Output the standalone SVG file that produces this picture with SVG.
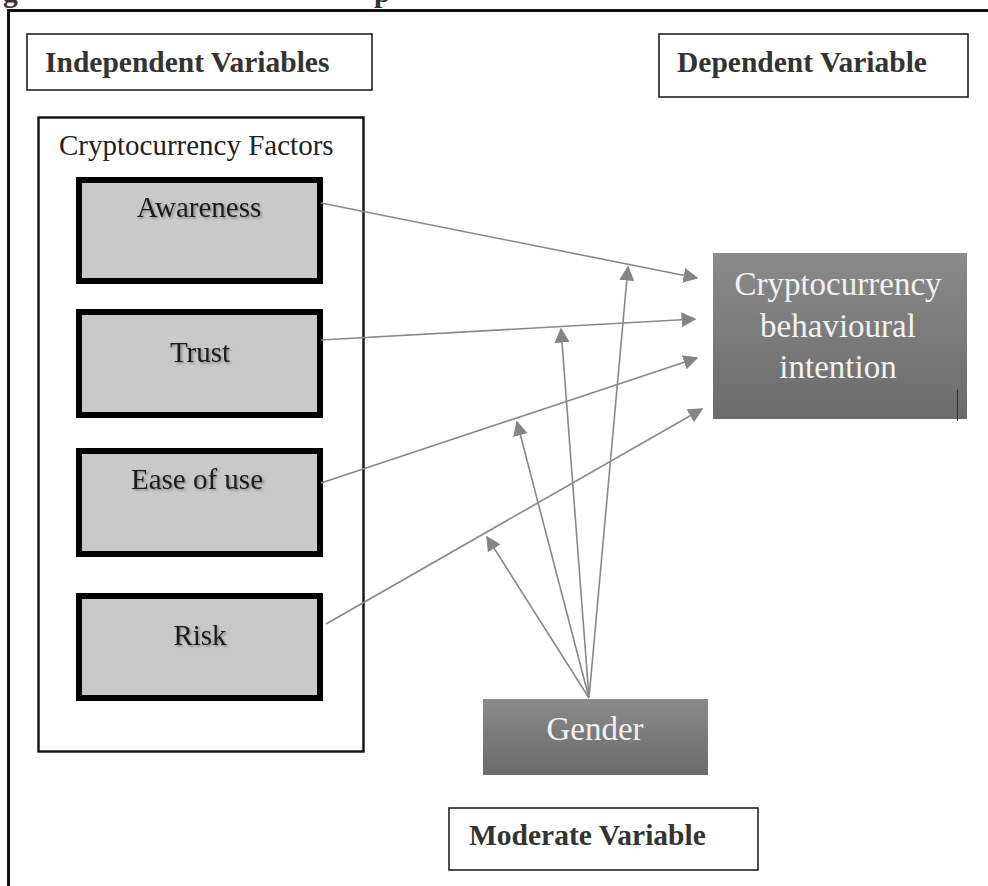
<svg xmlns="http://www.w3.org/2000/svg" width="988" height="886" viewBox="0 0 988 886">
  <style>
    text { font-family: "Liberation Serif", Tinos, "Times New Roman", "DejaVu Serif", serif; }
    .heading { font-weight: bold; font-size: 29.5px; fill: #333333; }
    .group-title { font-size: 29px; fill: #222222; }
    .factor { fill: #c9c9c9; stroke: #000000; stroke-width: 6; }
    .factor-label { font-size: 29px; fill: #1a1a1a; text-anchor: middle; }
    .dark-label { font-size: 33px; fill: #f2f2f2; text-anchor: middle; }
    .label-box { fill: #ffffff; stroke: #222222; stroke-width: 1.6; }
    .link { stroke: #888888; stroke-width: 1.6; fill: none; marker-end: url(#head); }
  </style>
  <defs>
    <marker id="head" viewBox="0 0 10 10" refX="9" refY="5" markerWidth="15" markerHeight="15" markerUnits="userSpaceOnUse" orient="auto">
      <path d="M0,0 L10,5 L0,10 Z" fill="#858585"/>
    </marker>
    <linearGradient id="darkFill" x1="0" y1="0" x2="0" y2="1">
      <stop offset="0" stop-color="#8a8a8a"/>
      <stop offset="1" stop-color="#6b6b6b"/>
    </linearGradient>
    <filter id="soft" x="-10%" y="-20%" width="130%" height="150%">
      <feDropShadow dx="1.5" dy="1.5" stdDeviation="1.2" flood-color="#555555" flood-opacity="0.6"/>
    </filter>
  </defs>

  <rect width="988" height="886" fill="#ffffff"/>

  <!-- caption descenders peeking in at the top edge -->
  <text x="3" y="2" class="heading" fill="#111111">g</text>
  <text x="374" y="2" class="heading" fill="#111111">p</text>

  <!-- outer frame, running off the right and bottom edges -->
  <path d="M8.5,1000 L8.5,10.5 L1000,10.5" fill="none" stroke="#111111" stroke-width="3"/>

  <g id="independent-heading">
    <rect class="label-box" x="27" y="34" width="345" height="56"/>
    <text class="heading" x="45" y="72">Independent Variables</text>
  </g>

  <g id="dependent-heading">
    <rect class="label-box" x="659" y="34" width="309" height="63"/>
    <text class="heading" x="677" y="72">Dependent Variable</text>
  </g>

  <g id="factors-group">
    <rect x="38.5" y="117.5" width="325" height="634" fill="none" stroke="#111111" stroke-width="2.4"/>
    <text class="group-title" x="59" y="155">Cryptocurrency Factors</text>
  </g>

  <g id="awareness">
    <rect class="factor" x="79" y="180" width="241" height="101"/>
    <text class="factor-label" x="199" y="217" filter="url(#soft)">Awareness</text>
  </g>

  <g id="trust">
    <rect class="factor" x="79" y="312" width="241" height="103"/>
    <text class="factor-label" x="200" y="362" filter="url(#soft)">Trust</text>
  </g>

  <g id="ease-of-use">
    <rect class="factor" x="79" y="451" width="241" height="103"/>
    <text class="factor-label" x="197" y="489" filter="url(#soft)">Ease of use</text>
  </g>

  <g id="risk">
    <rect class="factor" x="79" y="596" width="241" height="102"/>
    <text class="factor-label" x="200" y="645" filter="url(#soft)">Risk</text>
  </g>

  <g id="intention">
    <rect x="713" y="253" width="254" height="166" fill="url(#darkFill)"/>
    <text class="dark-label" x="838" y="295">Cryptocurrency</text>
    <text class="dark-label" x="838" y="337">behavioural</text>
    <text class="dark-label" x="838" y="378">intention</text>
    <line x1="957.5" y1="390" x2="957.5" y2="421" stroke="#333333" stroke-width="1"/>
  </g>

  <g id="gender">
    <rect x="483" y="699" width="225" height="76" fill="url(#darkFill)"/>
    <text class="dark-label" x="595" y="740">Gender</text>
  </g>

  <g id="moderate-heading">
    <rect class="label-box" x="449" y="808" width="309" height="62"/>
    <text class="heading" x="469" y="845">Moderate Variable</text>
  </g>

  <g id="connectors">
    <!-- factors to intention -->
    <line class="link" x1="321" y1="203" x2="697" y2="278"/>
    <line class="link" x1="321" y1="340" x2="695" y2="319"/>
    <line class="link" x1="321" y1="483" x2="697" y2="358"/>
    <line class="link" x1="326" y1="624" x2="702" y2="409"/>
    <!-- moderator links from gender -->
    <line class="link" x1="589" y1="698" x2="487" y2="537"/>
    <line class="link" x1="589" y1="698" x2="517" y2="422"/>
    <line class="link" x1="589" y1="698" x2="561" y2="329"/>
    <line class="link" x1="589" y1="698" x2="628" y2="267"/>
  </g>
</svg>
